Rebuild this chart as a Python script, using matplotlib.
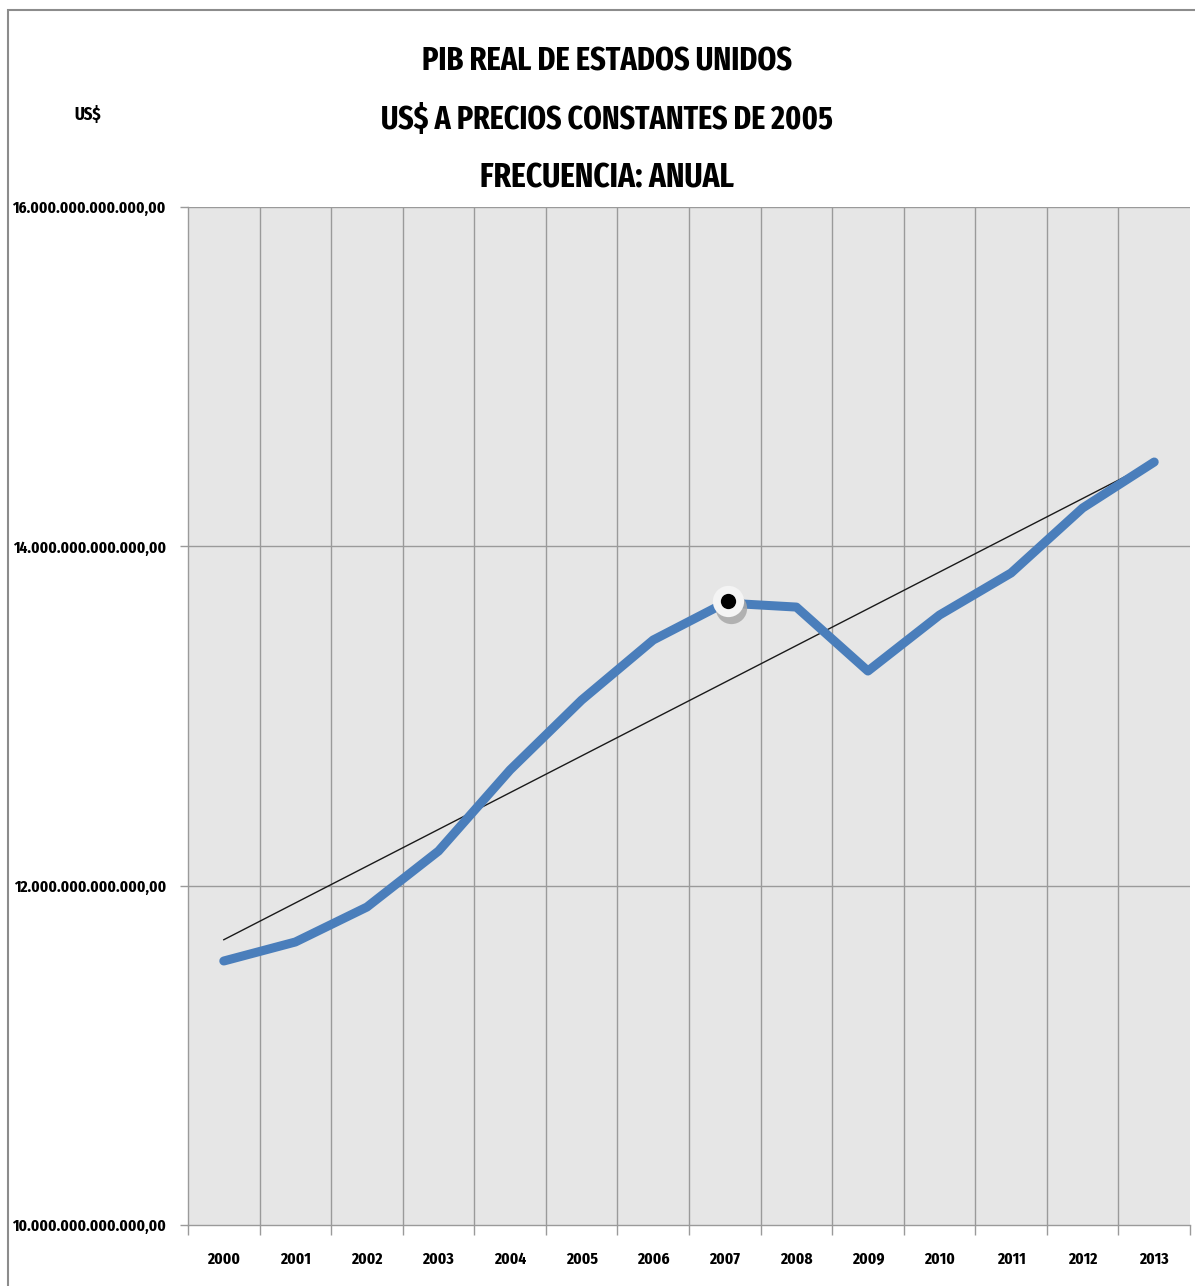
import matplotlib
matplotlib.use("Agg")
import matplotlib.pyplot as plt
import numpy as np
from matplotlib.patches import Rectangle
from matplotlib import font_manager

years = ["2000", "2001", "2002", "2003", "2004", "2005", "2006",
         "2007", "2008", "2009", "2010", "2011", "2012", "2013"]
gdp = [11.556e12, 11.668e12, 11.874e12, 12.204e12, 12.682e12, 13.094e12, 13.448e12,
       13.666e12, 13.642e12, 13.265e12, 13.595e12, 13.843e12, 14.226e12, 14.497e12]
yticks = [10e12, 12e12, 14e12, 16e12]
ytick_labels = ["10.000.000.000.000,00", "12.000.000.000.000,00",
                "14.000.000.000.000,00", "16.000.000.000.000,00"]
title_lines = ["PIB REAL DE ESTADOS UNIDOS", "US$ A PRECIOS CONSTANTES DE 2005",
               "FRECUENCIA: ANUAL"]
unit_label = "US$"
highlight = "2007"

names = {f.name for f in font_manager.fontManager.ttflist}
fam = "DejaVu Sans"
for cand in ["Fira Sans Extra Condensed", "Fira Sans Condensed", "Barlow Semi Condensed",
             "Asap Condensed", "Archivo Narrow", "Liberation Sans"]:
    if cand in names:
        fam = cand
        break

W, H = 1195, 1286
fig = plt.figure(figsize=(W / 100, H / 100), dpi=100)
fig.patch.set_facecolor("white")

fig.patches.append(Rectangle((8 / W, -0.01), 1.2, 1 - 10 / H + 0.01, transform=fig.transFigure,
                             fill=False, edgecolor="#8c8c8c", linewidth=1.5))

ax = fig.add_axes([188 / W, 1 - 1225 / H, 1002 / W, (1225 - 207) / H])
ax.set_facecolor("#e6e6e6")
x = np.arange(len(years))
ax.set_xlim(-0.5, len(years) - 0.5)
ax.set_ylim(10e12, 16e12)

for b in np.arange(0.5, len(years) - 0.5, 1.0):
    ax.axvline(b, color="#9a9a9a", linewidth=1.0, zorder=1)
for yv in yticks[1:]:
    ax.axhline(yv, color="#9a9a9a", linewidth=1.0, zorder=1)

coef = np.polyfit(x, gdp, 1)
ax.plot(x, np.polyval(coef, x), color="#1a1a1a", linewidth=1.0, zorder=3)

ax.plot(x, gdp, color="#4a7ebb", linewidth=6.5, solid_capstyle="round",
        solid_joinstyle="round", zorder=4)

hi = years.index(highlight)
ax.plot([hi + 0.085], [gdp[hi] - 0.03e12], marker="o", markersize=22.5, color="#a8a8a8",
        alpha=0.85, markeredgewidth=0, zorder=5)
ax.plot([hi + 0.045], [gdp[hi] + 0.012e12], marker="o", markersize=22.5, color="#f4f4f4",
        markeredgewidth=0, zorder=6)
ax.plot([hi + 0.045], [gdp[hi] + 0.012e12], marker="o", markersize=11, color="black",
        markeredgewidth=0, zorder=7)

ax.set_xticks(x)
ax.set_xticklabels(years)
ax.set_xticks(np.arange(-0.5, len(years), 1.0), minor=True)
ax.tick_params(axis="x", which="major", length=0, pad=19)
ax.tick_params(axis="x", which="minor", length=7, color="#9a9a9a", width=1)
ax.set_yticks(yticks)
ax.set_yticklabels(ytick_labels)
ax.tick_params(axis="y", length=6, color="#9a9a9a", width=1, pad=10)
for lab in ax.get_xticklabels() + ax.get_yticklabels():
    lab.set_fontfamily(fam)
    lab.set_fontweight("bold")
    lab.set_fontsize(14)

for s in ["top", "right"]:
    ax.spines[s].set_visible(False)
for s in ["left", "bottom"]:
    ax.spines[s].set_color("#9a9a9a")
    ax.spines[s].set_linewidth(1.0)

titles = []
for i, t in enumerate(title_lines):
    titles.append(fig.text(607 / W, 1 - (62 + 58 * i) / H, t, ha="center", va="center",
                           fontfamily=fam, fontweight="bold", fontsize=26))
unit = fig.text(88 / W, 1 - 115 / H, unit_label, ha="center", va="center",
                fontfamily=fam, fontweight="bold", fontsize=14)

# scale font sizes so text widths match the reference
fig.canvas.draw()
r = fig.canvas.get_renderer()
def fit(texts, target):
    w = texts[0].get_window_extent(r).width
    s = texts[0].get_fontsize() * target / w
    for t in texts:
        t.set_fontsize(s)
fit([titles[0]], 370)
fit([titles[1]], 452)
fit([titles[2]], 254)
fit([unit], 27)
fit(ax.get_yticklabels(), 153)
fit(ax.get_xticklabels(), 33)

fig.savefig("out.png", dpi=100)
